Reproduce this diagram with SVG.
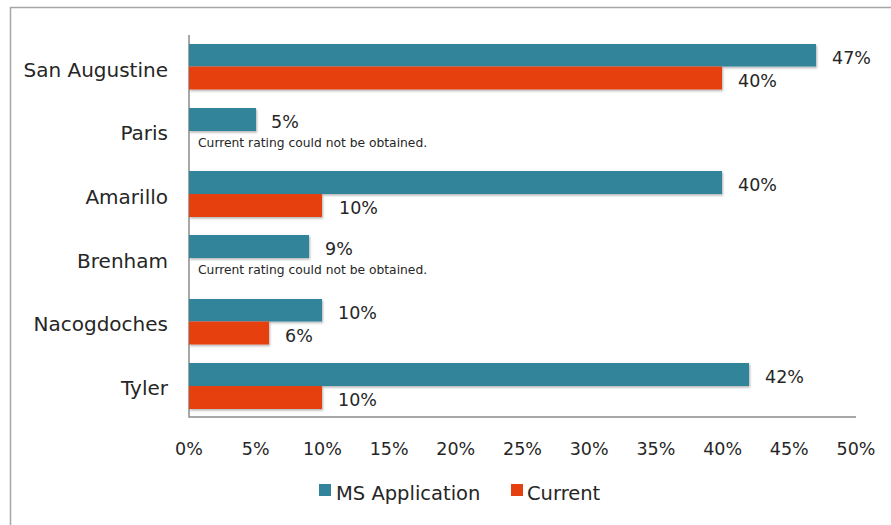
<svg xmlns="http://www.w3.org/2000/svg" width="891" height="525" viewBox="0 0 891 525">
<defs>
<filter id="sh" x="-5%" y="-20%" width="110%" height="150%">
<feDropShadow dx="1" dy="1.5" stdDeviation="1" flood-color="#000" flood-opacity="0.3"/>
</filter>
</defs>
<style>
.t{font-family:"DejaVu Sans","Liberation Sans",sans-serif;fill:#262626}
.cat{font-size:20px;text-anchor:end}
.val{font-size:17.5px}
.tick{font-size:17.5px;text-anchor:middle}
.note{font-size:12.3px}
.leg{font-size:19.5px}
.ms{fill:#31849B}
.cu{fill:#E5400F}
.ax{stroke:#8C8C8C;stroke-width:1.5;fill:none}
</style>
<rect width="891" height="525" fill="#fff"/>
<path d="M10.5,525 V7.5 H891" fill="none" stroke="#A6A6A6" stroke-width="1.5"/>
<g id="axes">
<path class="ax" d="M189,35 V417 H856"/>
<g class="t tick">
<text x="189" y="455">0%</text>
<text x="255.7" y="455">5%</text>
<text x="322.4" y="455">10%</text>
<text x="389.1" y="455">15%</text>
<text x="455.8" y="455">20%</text>
<text x="522.5" y="455">25%</text>
<text x="589.2" y="455">30%</text>
<text x="655.9" y="455">35%</text>
<text x="722.6" y="455">40%</text>
<text x="789.3" y="455">45%</text>
<text x="856" y="455">50%</text>
</g>
</g>
<g id="san-augustine">
<text class="t cat" x="168" y="77">San Augustine</text>
<rect class="ms" x="189" y="44" width="627" height="22.5" filter="url(#sh)"/>
<rect class="cu" x="189" y="66.5" width="533" height="23" filter="url(#sh)"/>
<text class="t val" x="832" y="64">47%</text>
<text class="t val" x="738" y="87">40%</text>
</g>
<g id="paris">
<text class="t cat" x="168" y="140">Paris</text>
<rect class="ms" x="189" y="108" width="67" height="23" filter="url(#sh)"/>
<text class="t val" x="271" y="128">5%</text>
<text class="t note" x="198" y="147">Current rating could not be obtained.</text>
</g>
<g id="amarillo">
<text class="t cat" x="168" y="204">Amarillo</text>
<rect class="ms" x="189" y="171" width="533" height="23" filter="url(#sh)"/>
<rect class="cu" x="189" y="194" width="133" height="23" filter="url(#sh)"/>
<text class="t val" x="738" y="191">40%</text>
<text class="t val" x="339" y="214">10%</text>
</g>
<g id="brenham">
<text class="t cat" x="168" y="268">Brenham</text>
<rect class="ms" x="189" y="235" width="120" height="23" filter="url(#sh)"/>
<text class="t val" x="325" y="255">9%</text>
<text class="t note" x="198" y="274">Current rating could not be obtained.</text>
</g>
<g id="nacogdoches">
<text class="t cat" x="168" y="331">Nacogdoches</text>
<rect class="ms" x="189" y="299" width="133" height="22.5" filter="url(#sh)"/>
<rect class="cu" x="189" y="321.5" width="80" height="23" filter="url(#sh)"/>
<text class="t val" x="338" y="319">10%</text>
<text class="t val" x="285" y="342">6%</text>
</g>
<g id="tyler">
<text class="t cat" x="168" y="395">Tyler</text>
<rect class="ms" x="189" y="363" width="560" height="23" filter="url(#sh)"/>
<rect class="cu" x="189" y="386" width="133" height="23" filter="url(#sh)"/>
<text class="t val" x="765" y="383">42%</text>
<text class="t val" x="338" y="406">10%</text>
</g>
<g id="legend">
<rect class="ms" x="319" y="484" width="12" height="12"/>
<text class="t leg" x="336" y="500">MS Application</text>
<rect class="cu" x="511" y="484" width="12" height="12"/>
<text class="t leg" x="527" y="500">Current</text>
</g>
</svg>
